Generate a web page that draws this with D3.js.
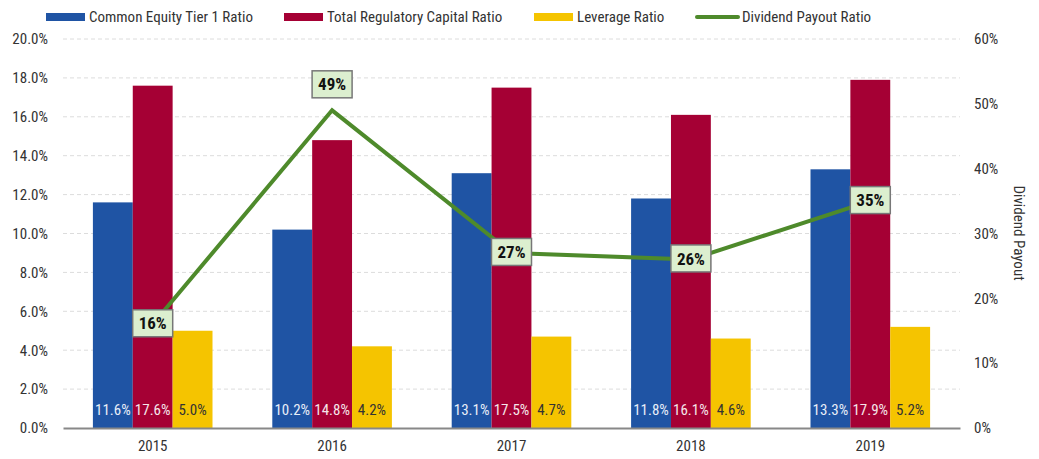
<html>
<head>
<script src="https://d3js.org/d3.v7.min.js"></script>
<style>
  body { margin: 0; background: #fff; }
  text { font-family: "Roboto Condensed", "Roboto", sans-serif; fill: #333; }
</style>
</head>
<body>
<svg width="1039" height="459"></svg>
<script>
const years = ['2015', '2016', '2017', '2018', '2019'];
const cet1 = [11.6, 10.2, 13.1, 11.8, 13.3];
const totalCap = [17.6, 14.8, 17.5, 16.1, 17.9];
const leverage = [5.0, 4.2, 4.7, 4.6, 5.2];
const payout = [16, 49, 27, 26, 35];
const leftTicks = [0, 2, 4, 6, 8, 10, 12, 14, 16, 18, 20];
const rightTicks = [0, 10, 20, 30, 40, 50, 60];

const series = [
  { name: 'Common Equity Tier 1 Ratio', values: cet1, color: '#1f54a4', text: '#e8eef8' },
  { name: 'Total Regulatory Capital Ratio', values: totalCap, color: '#a50034', text: '#f5e6ea' },
  { name: 'Leverage Ratio', values: leverage, color: '#f5c400', text: '#333' }
];

const svg = d3.select('svg');
const mLeft = 63, mRight = 960, mTop = 39, mBottom = 428;

const x = d3.scaleBand().domain(years).range([mLeft, mRight]).paddingInner(1/3).paddingOuter(1/6);
const x1 = d3.scaleBand().domain(d3.range(3)).range([0, x.bandwidth()]);
const y = d3.scaleLinear().domain([0, 20]).range([mBottom, mTop]);
const y2 = d3.scaleLinear().domain([0, 60]).range([mBottom, mTop]);

// grid
svg.append('g').selectAll('line').data(leftTicks.slice(1)).join('line')
  .attr('x1', mLeft).attr('x2', mRight)
  .attr('y1', d => y(d)).attr('y2', d => y(d))
  .attr('stroke', '#dcdcdc').attr('stroke-dasharray', '4,3');

// left axis
const ya = svg.append('g').attr('transform', `translate(${mLeft},0)`)
  .call(d3.axisLeft(y).tickValues(leftTicks).tickFormat(d => d.toFixed(1) + '%').tickSize(0).tickPadding(15));
ya.select('.domain').remove();
ya.selectAll('text').style('font-size', '15px').attr('fill', '#333');

// right axis
const yb = svg.append('g').attr('transform', `translate(${mRight},0)`)
  .call(d3.axisRight(y2).tickValues(rightTicks).tickFormat(d => d + '%').tickSize(0).tickPadding(14));
yb.select('.domain').remove();
yb.selectAll('text').style('font-size', '15px').attr('fill', '#333');

svg.append('text').attr('transform', 'translate(1014,233) rotate(90)')
  .attr('text-anchor', 'middle').style('font-size', '15px').text('Dividend Payout');

// bars
series.forEach((s, i) => {
  const g = svg.append('g');
  g.selectAll('rect').data(s.values).join('rect')
    .attr('x', (d, j) => x(years[j]) + x1(i))
    .attr('y', d => y(d))
    .attr('width', x1.bandwidth())
    .attr('height', d => y(0) - y(d))
    .attr('fill', s.color);
  g.selectAll('text').data(s.values).join('text')
    .attr('x', (d, j) => x(years[j]) + x1(i) + x1.bandwidth() / 2)
    .attr('y', y(0) - 13)
    .attr('text-anchor', 'middle')
    .style('font-size', '15px')
    .style('fill', s.text)
    .text(d => d.toFixed(1) + '%');
});

// bottom axis
const xa = svg.append('g').attr('transform', `translate(0,${mBottom})`)
  .call(d3.axisBottom(x).tickSize(0).tickPadding(12));
xa.select('.domain').attr('stroke', '#888').attr('stroke-width', 2);
xa.selectAll('text').style('font-size', '15px').attr('fill', '#333');

// line
const cx = (d, j) => x(years[j]) + x.bandwidth() / 2;
svg.append('path').datum(payout)
  .attr('fill', 'none').attr('stroke', '#4e8a2b').attr('stroke-width', 4)
  .attr('d', d3.line().x(cx).y(d => y2(d)));

// the peak label sits above its point
const lab = svg.append('g').selectAll('g').data(payout).join('g')
  .attr('transform', (d, j) => `translate(${cx(d, j)},${y2(d) + (j === 1 ? -26 : -1)})`);
lab.append('rect').attr('x', -20).attr('y', -13.5).attr('width', 40).attr('height', 27)
  .attr('fill', '#dcefcf').attr('stroke', '#777').attr('stroke-width', 1.5);
lab.append('text').attr('text-anchor', 'middle').attr('dy', '0.36em')
  .style('font-size', '17px').style('font-weight', 'bold').style('fill', '#111')
  .text(d => d + '%');

// legend
const legendX = [46, 284, 534];
series.forEach((s, i) => {
  svg.append('rect').attr('x', legendX[i]).attr('y', 13).attr('width', 39).attr('height', 8).attr('fill', s.color);
  svg.append('text').attr('x', legendX[i] + 43).attr('y', 17).attr('dy', '0.35em')
    .style('font-size', '15px').text(s.name);
});
svg.append('line').attr('x1', 697).attr('x2', 738).attr('y1', 17).attr('y2', 17)
  .attr('stroke', '#4e8a2b').attr('stroke-width', 4).attr('stroke-linecap', 'round');
svg.append('text').attr('x', 742).attr('y', 17).attr('dy', '0.35em')
  .style('font-size', '15px').text('Dividend Payout Ratio');
</script>
</body>
</html>
